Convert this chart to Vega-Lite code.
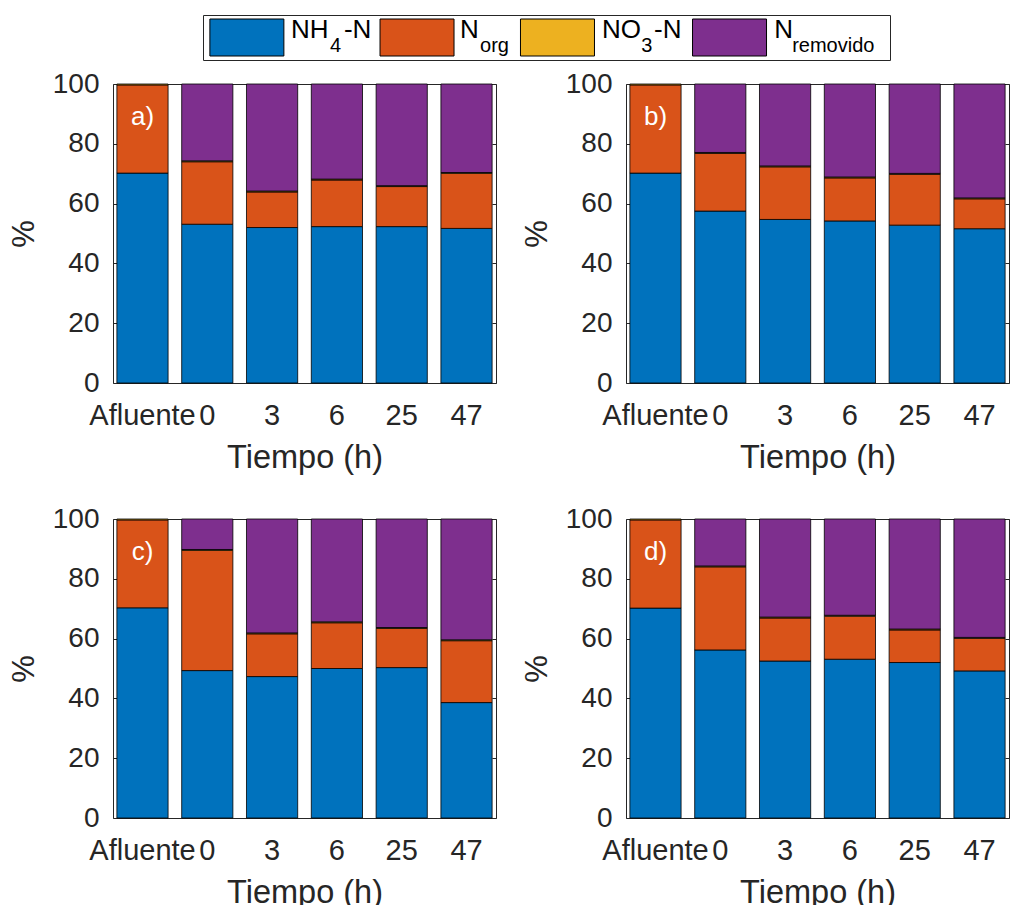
{
  "$schema": "https://vega.github.io/schema/vega-lite/v6.json",
  "padding": {"left": 7, "top": 14, "right": 0, "bottom": 0},
  "background": "white",
  "spacing": 8,
  "config": {
    "font": "Liberation Sans",
    "view": {"stroke": "#262626", "strokeWidth": 1},
    "axis": {"labelFont": "Liberation Sans", "titleFont": "Liberation Sans", "labelColor": "#262626", "titleColor": "#262626", "tickColor": "#262626", "grid": false, "domain": false, "titleFontWeight": "normal"},
    "axisBottom": {"labelFontSize": 29, "titleFontSize": 32.5},
    "axisLeft": {"labelFontSize": 28, "titleFontSize": 31}
  },
  "datasets": {
    "orden": [
      {"comp": "NH4-N", "idx": 1},
      {"comp": "Norg", "idx": 2},
      {"comp": "NO3-N", "idx": 3},
      {"comp": "Nremovido", "idx": 4}
    ],
    "nitro": [
      {"panel": "a)", "tiempo": "Afluente", "comp": "NH4-N", "value": 70.2},
      {"panel": "a)", "tiempo": "Afluente", "comp": "Norg", "value": 29.5},
      {"panel": "a)", "tiempo": "Afluente", "comp": "NO3-N", "value": 0.3},
      {"panel": "a)", "tiempo": "0", "comp": "NH4-N", "value": 53.1},
      {"panel": "a)", "tiempo": "0", "comp": "Norg", "value": 20.9},
      {"panel": "a)", "tiempo": "0", "comp": "NO3-N", "value": 0.3},
      {"panel": "a)", "tiempo": "0", "comp": "Nremovido", "value": 25.7},
      {"panel": "a)", "tiempo": "3", "comp": "NH4-N", "value": 52.0},
      {"panel": "a)", "tiempo": "3", "comp": "Norg", "value": 11.9},
      {"panel": "a)", "tiempo": "3", "comp": "NO3-N", "value": 0.3},
      {"panel": "a)", "tiempo": "3", "comp": "Nremovido", "value": 35.8},
      {"panel": "a)", "tiempo": "6", "comp": "NH4-N", "value": 52.3},
      {"panel": "a)", "tiempo": "6", "comp": "Norg", "value": 15.6},
      {"panel": "a)", "tiempo": "6", "comp": "NO3-N", "value": 0.3},
      {"panel": "a)", "tiempo": "6", "comp": "Nremovido", "value": 31.8},
      {"panel": "a)", "tiempo": "25", "comp": "NH4-N", "value": 52.3},
      {"panel": "a)", "tiempo": "25", "comp": "Norg", "value": 13.4},
      {"panel": "a)", "tiempo": "25", "comp": "NO3-N", "value": 0.3},
      {"panel": "a)", "tiempo": "25", "comp": "Nremovido", "value": 34.0},
      {"panel": "a)", "tiempo": "47", "comp": "NH4-N", "value": 51.7},
      {"panel": "a)", "tiempo": "47", "comp": "Norg", "value": 18.4},
      {"panel": "a)", "tiempo": "47", "comp": "NO3-N", "value": 0.3},
      {"panel": "a)", "tiempo": "47", "comp": "Nremovido", "value": 29.6},

      {"panel": "b)", "tiempo": "Afluente", "comp": "NH4-N", "value": 70.2},
      {"panel": "b)", "tiempo": "Afluente", "comp": "Norg", "value": 29.5},
      {"panel": "b)", "tiempo": "Afluente", "comp": "NO3-N", "value": 0.3},
      {"panel": "b)", "tiempo": "0", "comp": "NH4-N", "value": 57.5},
      {"panel": "b)", "tiempo": "0", "comp": "Norg", "value": 19.3},
      {"panel": "b)", "tiempo": "0", "comp": "NO3-N", "value": 0.3},
      {"panel": "b)", "tiempo": "0", "comp": "Nremovido", "value": 22.9},
      {"panel": "b)", "tiempo": "3", "comp": "NH4-N", "value": 54.7},
      {"panel": "b)", "tiempo": "3", "comp": "Norg", "value": 17.6},
      {"panel": "b)", "tiempo": "3", "comp": "NO3-N", "value": 0.3},
      {"panel": "b)", "tiempo": "3", "comp": "Nremovido", "value": 27.4},
      {"panel": "b)", "tiempo": "6", "comp": "NH4-N", "value": 54.2},
      {"panel": "b)", "tiempo": "6", "comp": "Norg", "value": 14.4},
      {"panel": "b)", "tiempo": "6", "comp": "NO3-N", "value": 0.3},
      {"panel": "b)", "tiempo": "6", "comp": "Nremovido", "value": 31.1},
      {"panel": "b)", "tiempo": "25", "comp": "NH4-N", "value": 52.8},
      {"panel": "b)", "tiempo": "25", "comp": "Norg", "value": 17.0},
      {"panel": "b)", "tiempo": "25", "comp": "NO3-N", "value": 0.3},
      {"panel": "b)", "tiempo": "25", "comp": "Nremovido", "value": 29.9},
      {"panel": "b)", "tiempo": "47", "comp": "NH4-N", "value": 51.6},
      {"panel": "b)", "tiempo": "47", "comp": "Norg", "value": 10.0},
      {"panel": "b)", "tiempo": "47", "comp": "NO3-N", "value": 0.3},
      {"panel": "b)", "tiempo": "47", "comp": "Nremovido", "value": 38.1},

      {"panel": "c)", "tiempo": "Afluente", "comp": "NH4-N", "value": 70.3},
      {"panel": "c)", "tiempo": "Afluente", "comp": "Norg", "value": 29.4},
      {"panel": "c)", "tiempo": "Afluente", "comp": "NO3-N", "value": 0.3},
      {"panel": "c)", "tiempo": "0", "comp": "NH4-N", "value": 49.3},
      {"panel": "c)", "tiempo": "0", "comp": "Norg", "value": 40.2},
      {"panel": "c)", "tiempo": "0", "comp": "NO3-N", "value": 0.3},
      {"panel": "c)", "tiempo": "0", "comp": "Nremovido", "value": 10.2},
      {"panel": "c)", "tiempo": "3", "comp": "NH4-N", "value": 47.3},
      {"panel": "c)", "tiempo": "3", "comp": "Norg", "value": 14.3},
      {"panel": "c)", "tiempo": "3", "comp": "NO3-N", "value": 0.3},
      {"panel": "c)", "tiempo": "3", "comp": "Nremovido", "value": 38.1},
      {"panel": "c)", "tiempo": "6", "comp": "NH4-N", "value": 50.0},
      {"panel": "c)", "tiempo": "6", "comp": "Norg", "value": 15.3},
      {"panel": "c)", "tiempo": "6", "comp": "NO3-N", "value": 0.3},
      {"panel": "c)", "tiempo": "6", "comp": "Nremovido", "value": 34.4},
      {"panel": "c)", "tiempo": "25", "comp": "NH4-N", "value": 50.3},
      {"panel": "c)", "tiempo": "25", "comp": "Norg", "value": 13.1},
      {"panel": "c)", "tiempo": "25", "comp": "NO3-N", "value": 0.3},
      {"panel": "c)", "tiempo": "25", "comp": "Nremovido", "value": 36.3},
      {"panel": "c)", "tiempo": "47", "comp": "NH4-N", "value": 38.6},
      {"panel": "c)", "tiempo": "47", "comp": "Norg", "value": 20.7},
      {"panel": "c)", "tiempo": "47", "comp": "NO3-N", "value": 0.3},
      {"panel": "c)", "tiempo": "47", "comp": "Nremovido", "value": 40.4},

      {"panel": "d)", "tiempo": "Afluente", "comp": "NH4-N", "value": 70.2},
      {"panel": "d)", "tiempo": "Afluente", "comp": "Norg", "value": 29.5},
      {"panel": "d)", "tiempo": "Afluente", "comp": "NO3-N", "value": 0.3},
      {"panel": "d)", "tiempo": "0", "comp": "NH4-N", "value": 56.2},
      {"panel": "d)", "tiempo": "0", "comp": "Norg", "value": 27.8},
      {"panel": "d)", "tiempo": "0", "comp": "NO3-N", "value": 0.3},
      {"panel": "d)", "tiempo": "0", "comp": "Nremovido", "value": 15.7},
      {"panel": "d)", "tiempo": "3", "comp": "NH4-N", "value": 52.5},
      {"panel": "d)", "tiempo": "3", "comp": "Norg", "value": 14.4},
      {"panel": "d)", "tiempo": "3", "comp": "NO3-N", "value": 0.3},
      {"panel": "d)", "tiempo": "3", "comp": "Nremovido", "value": 32.8},
      {"panel": "d)", "tiempo": "6", "comp": "NH4-N", "value": 53.1},
      {"panel": "d)", "tiempo": "6", "comp": "Norg", "value": 14.4},
      {"panel": "d)", "tiempo": "6", "comp": "NO3-N", "value": 0.3},
      {"panel": "d)", "tiempo": "6", "comp": "Nremovido", "value": 32.2},
      {"panel": "d)", "tiempo": "25", "comp": "NH4-N", "value": 52.0},
      {"panel": "d)", "tiempo": "25", "comp": "Norg", "value": 10.9},
      {"panel": "d)", "tiempo": "25", "comp": "NO3-N", "value": 0.3},
      {"panel": "d)", "tiempo": "25", "comp": "Nremovido", "value": 36.8},
      {"panel": "d)", "tiempo": "47", "comp": "NH4-N", "value": 49.2},
      {"panel": "d)", "tiempo": "47", "comp": "Norg", "value": 10.9},
      {"panel": "d)", "tiempo": "47", "comp": "NO3-N", "value": 0.3},
      {"panel": "d)", "tiempo": "47", "comp": "Nremovido", "value": 39.6}
    ]
  },
  "vconcat": [
    {
      "spacing": 0,
      "hconcat": [
        {
          "width": 89,
          "height": 45,
          "view": {"stroke": null},
          "data": {"values": []},
          "mark": "text",
          "encoding": {}
        },
        {
          "width": 687,
          "height": 45,
          "data": {"values": [
            {"item": "NH4-N", "row": "L", "main": "NH", "sub": "4", "suf": "-N"},
            {"item": "Norg", "row": "L", "main": "N", "sub": "org", "suf": ""},
            {"item": "NO3-N", "row": "L", "main": "NO", "sub": "3", "suf": "-N"},
            {"item": "Nremovido", "row": "L", "main": "N", "sub": "removido", "suf": ""}
          ]},
          "encoding": {
            "x": {"field": "item", "type": "nominal", "scale": {"domain": ["NH4-N", "Norg", "NO3-N", "Nremovido"], "paddingInner": 0, "paddingOuter": 0}, "axis": null},
            "y": {"field": "row", "type": "nominal", "axis": null}
          },
          "layer": [
            {"transform": [{"filter": "datum.item === 'NH4-N'"}], "layer": [
              {"mark": {"type": "point", "shape": "M-1,-0.5H1V0.5H-1Z", "size": 5476, "filled": true, "fill": "#0072BD", "stroke": "#000", "strokeWidth": 1, "opacity": 1, "xOffset": -42}},
              {"mark": {"type": "text", "align": "left", "baseline": "alphabetic", "fontSize": 26, "color": "#000", "dx": 2, "dy": 0.5}, "encoding": {"text": {"field": "main"}}},
              {"mark": {"type": "text", "align": "left", "baseline": "alphabetic", "fontSize": 20, "color": "#000", "dx": 41, "dy": 14.5}, "encoding": {"text": {"field": "sub"}}},
              {"mark": {"type": "text", "align": "left", "baseline": "alphabetic", "fontSize": 26, "color": "#000", "dx": 55, "dy": 0.5}, "encoding": {"text": {"field": "suf"}}}
            ]},
            {"transform": [{"filter": "datum.item === 'Norg'"}], "layer": [
              {"mark": {"type": "point", "shape": "M-1,-0.5H1V0.5H-1Z", "size": 5476, "filled": true, "fill": "#D95319", "stroke": "#000", "strokeWidth": 1, "opacity": 1, "xOffset": -43.6}},
              {"mark": {"type": "text", "align": "left", "baseline": "alphabetic", "fontSize": 26, "color": "#000", "dx": -0.6, "dy": 0.5}, "encoding": {"text": {"field": "main"}}},
              {"mark": {"type": "text", "align": "left", "baseline": "alphabetic", "fontSize": 20, "color": "#000", "dx": 19.4, "dy": 14.5}, "encoding": {"text": {"field": "sub"}}}
            ]},
            {"transform": [{"filter": "datum.item === 'NO3-N'"}], "layer": [
              {"mark": {"type": "point", "shape": "M-1,-0.5H1V0.5H-1Z", "size": 5476, "filled": true, "fill": "#EDB120", "stroke": "#000", "strokeWidth": 1, "opacity": 1, "xOffset": -74.9}},
              {"mark": {"type": "text", "align": "left", "baseline": "alphabetic", "fontSize": 26, "color": "#000", "dx": -30.4, "dy": 0.5}, "encoding": {"text": {"field": "main"}}},
              {"mark": {"type": "text", "align": "left", "baseline": "alphabetic", "fontSize": 20, "color": "#000", "dx": 8.9, "dy": 14.5}, "encoding": {"text": {"field": "sub"}}},
              {"mark": {"type": "text", "align": "left", "baseline": "alphabetic", "fontSize": 26, "color": "#000", "dx": 21.6, "dy": 0.5}, "encoding": {"text": {"field": "suf"}}}
            ]},
            {"transform": [{"filter": "datum.item === 'Nremovido'"}], "layer": [
              {"mark": {"type": "point", "shape": "M-1,-0.5H1V0.5H-1Z", "size": 5476, "filled": true, "fill": "#7E2F8E", "stroke": "#000", "strokeWidth": 1, "opacity": 1, "xOffset": -74.6}},
              {"mark": {"type": "text", "align": "left", "baseline": "alphabetic", "fontSize": 26, "color": "#000", "dx": -30, "dy": 0.5}, "encoding": {"text": {"field": "main"}}},
              {"mark": {"type": "text", "align": "left", "baseline": "alphabetic", "fontSize": 20, "color": "#000", "dx": -12, "dy": 14.5}, "encoding": {"text": {"field": "sub"}}}
            ]}
          ]
        }
      ]
    },
    {
      "columns": 2,
      "spacing": {"row": 30, "column": 23},
      "concat": [
        {
          "width": 383, "height": 299,
          "data": {"name": "nitro"},
          "transform": [{"filter": "datum.panel === 'a)'"}, {"lookup": "comp", "from": {"data": {"name": "orden"}, "key": "comp", "fields": ["idx"]}}],
          "layer": [
            {
              "mark": {"type": "bar", "stroke": "#000", "strokeWidth": 0.8},
              "encoding": {
                "x": {"field": "tiempo", "type": "nominal", "sort": null,
                  "scale": {"domain": ["Afluente", "0", "3", "6", "25", "47"], "paddingInner": 0.21, "paddingOuter": 0.06},
                  "axis": {"orient": "bottom", "title": "Tiempo (h)", "labelAngle": 0, "tickSize": -4, "labelPadding": 22, "titlePadding": 11, "labelOverlap": false, "labelBaseline": "top"}},
                "y": {"field": "value", "type": "quantitative", "stack": "zero",
                  "scale": {"domain": [0, 100], "nice": false},
                  "axis": {"orient": "left", "title": "%", "values": [0, 20, 40, 60, 80, 100], "tickSize": -4, "labelPadding": 18, "titlePadding": 12}},
                "color": {"field": "comp", "type": "nominal",
                  "scale": {"domain": ["NH4-N", "Norg", "NO3-N", "Nremovido"], "range": ["#0072BD", "#D95319", "#EDB120", "#7E2F8E"]},
                  "legend": null},
                "order": {"field": "idx", "type": "quantitative", "sort": "ascending"}
              }
            },
            {
              "transform": [{"filter": "datum.comp === 'NH4-N' && datum.tiempo === 'Afluente'"}],
              "mark": {"type": "text", "color": "white", "fontSize": 26, "baseline": "middle", "align": "center"},
              "encoding": {
                "x": {"field": "tiempo", "type": "nominal", "sort": null,
                  "scale": {"domain": ["Afluente", "0", "3", "6", "25", "47"], "paddingInner": 0.21, "paddingOuter": 0.06},
                  "axis": {"orient": "top", "title": null, "labels": false, "tickSize": -4}},
                "y": {"datum": 89, "type": "quantitative", "scale": {"domain": [0, 100], "nice": false},
                  "axis": {"orient": "right", "title": null, "labels": false, "values": [0, 20, 40, 60, 80, 100], "tickSize": -4}},
                "text": {"field": "panel"}
              }
            }
          ],
          "resolve": {"axis": {"x": "independent", "y": "independent"}}
        },
        {
          "width": 383, "height": 299,
          "data": {"name": "nitro"},
          "transform": [{"filter": "datum.panel === 'b)'"}, {"lookup": "comp", "from": {"data": {"name": "orden"}, "key": "comp", "fields": ["idx"]}}],
          "layer": [
            {
              "mark": {"type": "bar", "stroke": "#000", "strokeWidth": 0.8},
              "encoding": {
                "x": {"field": "tiempo", "type": "nominal", "sort": null,
                  "scale": {"domain": ["Afluente", "0", "3", "6", "25", "47"], "paddingInner": 0.21, "paddingOuter": 0.06},
                  "axis": {"orient": "bottom", "title": "Tiempo (h)", "labelAngle": 0, "tickSize": -4, "labelPadding": 22, "titlePadding": 11, "labelOverlap": false, "labelBaseline": "top"}},
                "y": {"field": "value", "type": "quantitative", "stack": "zero",
                  "scale": {"domain": [0, 100], "nice": false},
                  "axis": {"orient": "left", "title": "%", "values": [0, 20, 40, 60, 80, 100], "tickSize": -4, "labelPadding": 18, "titlePadding": 12}},
                "color": {"field": "comp", "type": "nominal",
                  "scale": {"domain": ["NH4-N", "Norg", "NO3-N", "Nremovido"], "range": ["#0072BD", "#D95319", "#EDB120", "#7E2F8E"]},
                  "legend": null},
                "order": {"field": "idx", "type": "quantitative", "sort": "ascending"}
              }
            },
            {
              "transform": [{"filter": "datum.comp === 'NH4-N' && datum.tiempo === 'Afluente'"}],
              "mark": {"type": "text", "color": "white", "fontSize": 26, "baseline": "middle", "align": "center"},
              "encoding": {
                "x": {"field": "tiempo", "type": "nominal", "sort": null,
                  "scale": {"domain": ["Afluente", "0", "3", "6", "25", "47"], "paddingInner": 0.21, "paddingOuter": 0.06},
                  "axis": {"orient": "top", "title": null, "labels": false, "tickSize": -4}},
                "y": {"datum": 89, "type": "quantitative", "scale": {"domain": [0, 100], "nice": false},
                  "axis": {"orient": "right", "title": null, "labels": false, "values": [0, 20, 40, 60, 80, 100], "tickSize": -4}},
                "text": {"field": "panel"}
              }
            }
          ],
          "resolve": {"axis": {"x": "independent", "y": "independent"}}
        },
        {
          "width": 383, "height": 299,
          "data": {"name": "nitro"},
          "transform": [{"filter": "datum.panel === 'c)'"}, {"lookup": "comp", "from": {"data": {"name": "orden"}, "key": "comp", "fields": ["idx"]}}],
          "layer": [
            {
              "mark": {"type": "bar", "stroke": "#000", "strokeWidth": 0.8},
              "encoding": {
                "x": {"field": "tiempo", "type": "nominal", "sort": null,
                  "scale": {"domain": ["Afluente", "0", "3", "6", "25", "47"], "paddingInner": 0.21, "paddingOuter": 0.06},
                  "axis": {"orient": "bottom", "title": "Tiempo (h)", "labelAngle": 0, "tickSize": -4, "labelPadding": 22, "titlePadding": 11, "labelOverlap": false, "labelBaseline": "top"}},
                "y": {"field": "value", "type": "quantitative", "stack": "zero",
                  "scale": {"domain": [0, 100], "nice": false},
                  "axis": {"orient": "left", "title": "%", "values": [0, 20, 40, 60, 80, 100], "tickSize": -4, "labelPadding": 18, "titlePadding": 12}},
                "color": {"field": "comp", "type": "nominal",
                  "scale": {"domain": ["NH4-N", "Norg", "NO3-N", "Nremovido"], "range": ["#0072BD", "#D95319", "#EDB120", "#7E2F8E"]},
                  "legend": null},
                "order": {"field": "idx", "type": "quantitative", "sort": "ascending"}
              }
            },
            {
              "transform": [{"filter": "datum.comp === 'NH4-N' && datum.tiempo === 'Afluente'"}],
              "mark": {"type": "text", "color": "white", "fontSize": 26, "baseline": "middle", "align": "center"},
              "encoding": {
                "x": {"field": "tiempo", "type": "nominal", "sort": null,
                  "scale": {"domain": ["Afluente", "0", "3", "6", "25", "47"], "paddingInner": 0.21, "paddingOuter": 0.06},
                  "axis": {"orient": "top", "title": null, "labels": false, "tickSize": -4}},
                "y": {"datum": 89, "type": "quantitative", "scale": {"domain": [0, 100], "nice": false},
                  "axis": {"orient": "right", "title": null, "labels": false, "values": [0, 20, 40, 60, 80, 100], "tickSize": -4}},
                "text": {"field": "panel"}
              }
            }
          ],
          "resolve": {"axis": {"x": "independent", "y": "independent"}}
        },
        {
          "width": 383, "height": 299,
          "data": {"name": "nitro"},
          "transform": [{"filter": "datum.panel === 'd)'"}, {"lookup": "comp", "from": {"data": {"name": "orden"}, "key": "comp", "fields": ["idx"]}}],
          "layer": [
            {
              "mark": {"type": "bar", "stroke": "#000", "strokeWidth": 0.8},
              "encoding": {
                "x": {"field": "tiempo", "type": "nominal", "sort": null,
                  "scale": {"domain": ["Afluente", "0", "3", "6", "25", "47"], "paddingInner": 0.21, "paddingOuter": 0.06},
                  "axis": {"orient": "bottom", "title": "Tiempo (h)", "labelAngle": 0, "tickSize": -4, "labelPadding": 22, "titlePadding": 11, "labelOverlap": false, "labelBaseline": "top"}},
                "y": {"field": "value", "type": "quantitative", "stack": "zero",
                  "scale": {"domain": [0, 100], "nice": false},
                  "axis": {"orient": "left", "title": "%", "values": [0, 20, 40, 60, 80, 100], "tickSize": -4, "labelPadding": 18, "titlePadding": 12}},
                "color": {"field": "comp", "type": "nominal",
                  "scale": {"domain": ["NH4-N", "Norg", "NO3-N", "Nremovido"], "range": ["#0072BD", "#D95319", "#EDB120", "#7E2F8E"]},
                  "legend": null},
                "order": {"field": "idx", "type": "quantitative", "sort": "ascending"}
              }
            },
            {
              "transform": [{"filter": "datum.comp === 'NH4-N' && datum.tiempo === 'Afluente'"}],
              "mark": {"type": "text", "color": "white", "fontSize": 26, "baseline": "middle", "align": "center"},
              "encoding": {
                "x": {"field": "tiempo", "type": "nominal", "sort": null,
                  "scale": {"domain": ["Afluente", "0", "3", "6", "25", "47"], "paddingInner": 0.21, "paddingOuter": 0.06},
                  "axis": {"orient": "top", "title": null, "labels": false, "tickSize": -4}},
                "y": {"datum": 89, "type": "quantitative", "scale": {"domain": [0, 100], "nice": false},
                  "axis": {"orient": "right", "title": null, "labels": false, "values": [0, 20, 40, 60, 80, 100], "tickSize": -4}},
                "text": {"field": "panel"}
              }
            }
          ],
          "resolve": {"axis": {"x": "independent", "y": "independent"}}
        }
      ]
    }
  ]
}
